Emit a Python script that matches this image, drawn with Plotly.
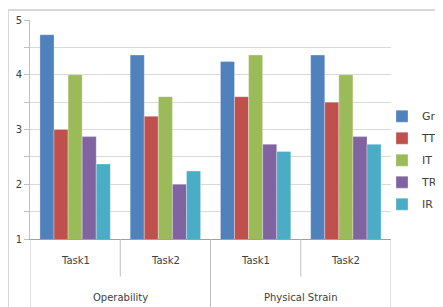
import plotly.graph_objects as go

groups = ["Operability", "Physical Strain"]
tasks = ["Task1", "Task2"]
series = ["Gr", "TT", "IT", "TR", "IR"]
values = {
    "Gr": [4.73, 4.36, 4.24, 4.36],
    "TT": [3.0, 3.24, 3.6, 3.5],
    "IT": [4.0, 3.6, 4.36, 4.0],
    "TR": [2.87, 2.0, 2.73, 2.87],
    "IR": [2.37, 2.24, 2.6, 2.73],
}
colors = ["#4F81BD", "#C0504D", "#9BBB59", "#8064A2", "#4BACC6"]
y_ticks = [1, 2, 3, 4, 5]

x_idx = list(range(len(groups) * len(tasks)))
tick_text = [t for g in groups for t in tasks]

FONT = "DejaVu Sans"
TXT = "#404040"
GRID = "#d9d9d9"
AXIS = "#c0c0c0"
BASE = "#a0a0a0"

fig = go.Figure()
for i, s in enumerate(series):
    fig.add_trace(go.Bar(
        x=x_idx, y=values[s], base=0, name=s,
        marker=dict(color=colors[i], line=dict(width=1, color="rgba(255,255,255,0.3)")),
        legendgroup=s,
    ))

shapes = []
for xb in [-0.5, 1.5, 3.5]:
    shapes.append(dict(type="line", xref="x", yref="paper", x0=xb, x1=xb, y0=0, y1=-0.35,
                       line=dict(color=AXIS, width=1)))
for xb in [0.5, 2.5]:
    shapes.append(dict(type="line", xref="x", yref="paper", x0=xb, x1=xb, y0=0, y1=-0.172,
                       line=dict(color=AXIS, width=1)))
shapes.append(dict(type="rect", xref="paper", yref="paper", x0=-0.061, x1=1.2, y0=-0.4, y1=1.0457,
                   line=dict(color=GRID, width=2), fillcolor="rgba(0,0,0,0)", layer="below"))

annotations = []
for i, t in enumerate(tick_text):
    annotations.append(dict(x=x_idx[i], y=0, xref="x", yref="paper", text=t, showarrow=False,
                            yanchor="middle", yshift=-21, font=dict(family=FONT, size=10, color=TXT)))
for gi, g in enumerate(groups):
    annotations.append(dict(x=gi * len(tasks) + (len(tasks) - 1) / 2, y=0, xref="x", yref="paper",
                            text=g, showarrow=False, yanchor="middle", yshift=-58,
                            font=dict(family=FONT, size=10, color=TXT)))

# page body has an 8px margin: figure is sized/offset to compensate
fig.update_layout(
    width=435, height=299,
    margin=dict(l=22, r=52, t=12, b=68, autoexpand=False),
    paper_bgcolor="white", plot_bgcolor="white",
    barmode="group", bargap=0.22, bargroupgap=0,
    font=dict(family=FONT, size=10, color=TXT),
    showlegend=True,
    legend=dict(x=(374 - 22) / 361, xanchor="left", y=0.36, yanchor="middle",
                font=dict(family=FONT, size=11, color=TXT),
                traceorder="grouped", tracegroupgap=3,
                itemwidth=30, bgcolor="rgba(0,0,0,0)"),
    shapes=shapes, annotations=annotations,
    xaxis=dict(range=[-0.5, 3.5], tickvals=x_idx, showticklabels=False, ticks="",
               showgrid=False, zeroline=False, showline=True, linecolor=BASE, linewidth=1,
               automargin=False),
    yaxis=dict(range=[1, 5], tickvals=y_ticks, ticks="outside", ticklen=5, tickcolor=AXIS,
               showgrid=True, gridcolor=GRID, gridwidth=1, zeroline=False,
               showline=True, linecolor=AXIS, linewidth=1, automargin=False,
               tickfont=dict(family=FONT, size=10, color=TXT),
               minor=dict(dtick=0.5, showgrid=True, gridcolor=GRID, ticks="outside",
                          ticklen=5, tickcolor=AXIS)),
)

fig.write_html("out.html")
